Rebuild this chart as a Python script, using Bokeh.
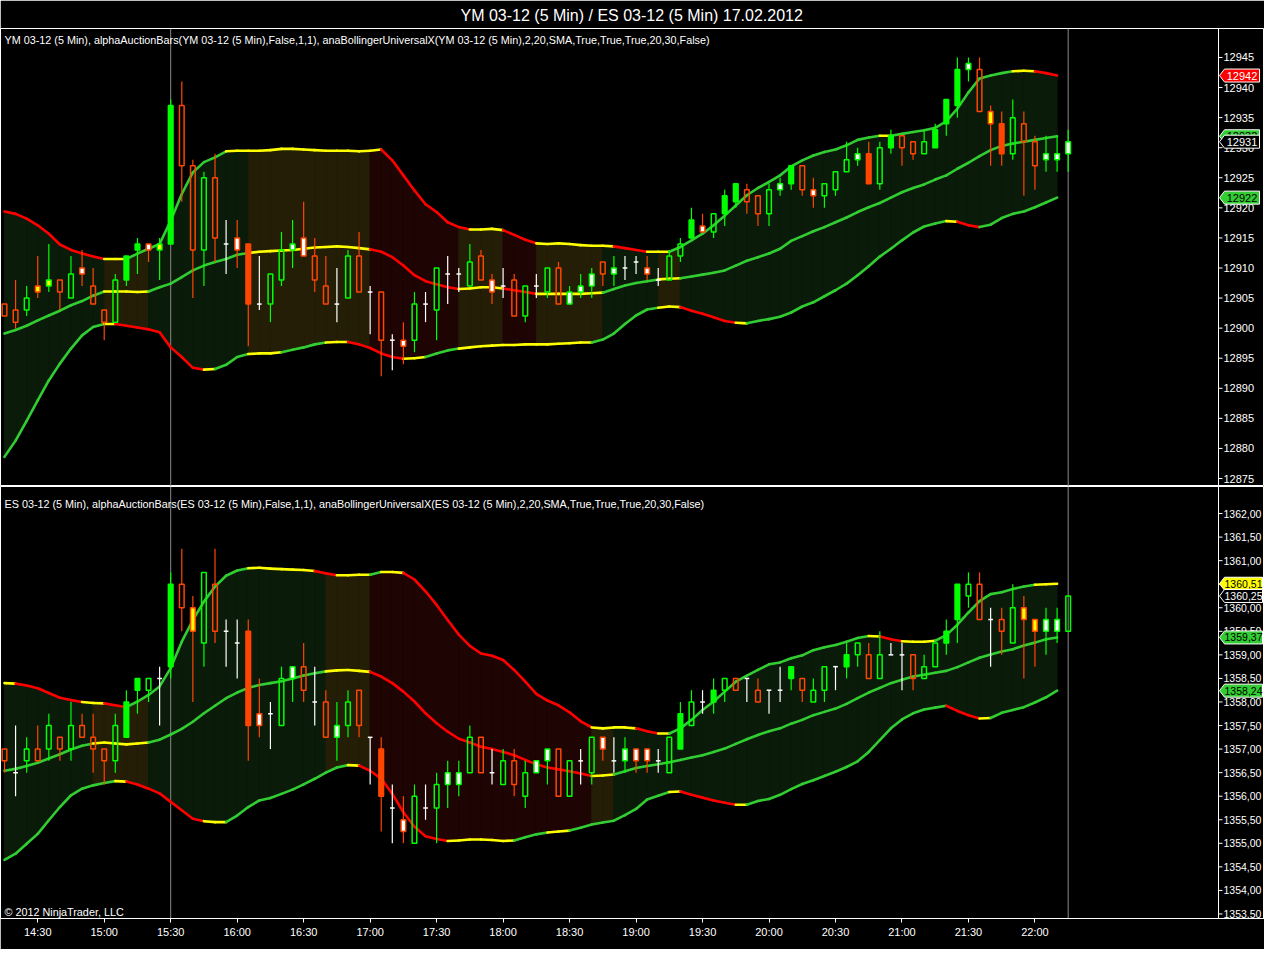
import pandas as pd
from bokeh.plotting import figure
from bokeh.layouts import column
from bokeh.models import Range1d, FixedTicker, Label, Span
from bokeh.core.properties import value
from bokeh.embed import file_html
from bokeh.resources import INLINE

# ---------------- data ----------------
times = pd.date_range("2012-02-17 14:15", periods=97, freq="5min").strftime("%H:%M").tolist()
x_tick_labels = ["14:30", "15:00", "15:30", "16:00", "16:30", "17:00", "17:30", "18:00",
                 "18:30", "19:00", "19:30", "20:00", "20:30", "21:00", "21:30", "22:00"]
marker_times = ["15:30", "22:15"]

ym_ticks = [12875, 12880, 12885, 12890, 12895, 12900, 12905, 12910, 12915, 12920,
            12925, 12930, 12935, 12940, 12945]
es_ticks = [1353.5, 1354.0, 1354.5, 1355.0, 1355.5, 1356.0, 1356.5, 1357.0, 1357.5, 1358.0,
            1358.5, 1359.0, 1359.5, 1360.0, 1360.5, 1361.0, 1361.5, 1362.0]

# bar kinds: G green solid, g green hollow, R red solid, r red hollow,
# wg/wr white body, yg/yr yellow body, x doji
ym_kind = ["r", "r", "g", "yr", "yg", "r", "g", "wr", "r", "r",
           "g", "G", "G", "wr", "yg", "G", "r", "r", "g", "r",
           "x", "wr", "R", "x", "g", "g", "wg", "wr", "r", "r",
           "x", "g", "r", "x", "r", "x", "wr", "g", "x", "g",
           "x", "x", "g", "r", "wr", "x", "r", "g", "x", "g",
           "r", "wg", "wg", "wg", "r", "wg", "x", "x", "wr", "x",
           "g", "g", "G", "wr", "g", "G", "G", "r", "r", "g",
           "wg", "G", "r", "wr", "g", "g", "g", "wg", "R", "g",
           "G", "r", "r", "g", "G", "G", "G", "wg", "r", "yr",
           "R", "g", "r", "r", "wg", "wg", "wg"]
ym_open = [12904, 12903, 12903, 12907, 12907, 12908, 12905, 12910, 12907, 12903,
           12901, 12908, 12913, 12914, 12913, 12914, 12937, 12927, 12913, 12925,
           12914, 12915, 12914, 12904, 12904, 12908, 12913, 12915, 12912, 12907,
           12904, 12905, 12912, 12906, 12906, 12898, 12898, 12898, 12904, 12903,
           12909, 12909, 12907, 12912, 12908, 12907, 12908, 12902, 12907, 12906,
           12910, 12904, 12906, 12907, 12911, 12909, 12910, 12911, 12910, 12908,
           12908, 12912, 12915, 12917, 12916, 12919, 12921, 12923, 12922, 12919,
           12923, 12924, 12927, 12923, 12922, 12923, 12926, 12928, 12929, 12924,
           12930, 12932, 12931, 12929, 12930, 12934, 12937, 12943, 12943, 12936,
           12934, 12929, 12934, 12931, 12928, 12928, 12929]
ym_high = [12904, 12908, 12907, 12912, 12914, 12908, 12912, 12913, 12910, 12903,
           12909, 12912, 12915, 12914, 12915, 12938, 12941, 12928, 12926, 12929,
           12918, 12918, 12914, 12912, 12909, 12916, 12918, 12921, 12915, 12912,
           12910, 12913, 12916, 12907, 12906, 12899, 12901, 12906, 12906, 12910,
           12912, 12910, 12914, 12913, 12909, 12910, 12909, 12907, 12909, 12910,
           12911, 12907, 12909, 12910, 12911, 12912, 12912, 12912, 12912, 12910,
           12913, 12915, 12920, 12919, 12919, 12923, 12924, 12924, 12922, 12924,
           12925, 12927, 12927, 12925, 12924, 12926, 12931, 12930, 12931, 12931,
           12933, 12932, 12931, 12933, 12934, 12938, 12945, 12945, 12945, 12937,
           12936, 12938, 12936, 12932, 12932, 12932, 12933]
ym_low = [12902, 12900, 12902, 12905, 12906, 12903, 12905, 12907, 12904, 12898,
          12901, 12907, 12909, 12911, 12908, 12914, 12921, 12905, 12907, 12911,
          12909, 12910, 12897, 12903, 12901, 12907, 12910, 12912, 12906, 12904,
          12901, 12905, 12906, 12899, 12892, 12893, 12894, 12896, 12901, 12898,
          12904, 12906, 12907, 12908, 12904, 12905, 12902, 12901, 12905, 12905,
          12904, 12904, 12905, 12905, 12907, 12907, 12908, 12909, 12908, 12907,
          12908, 12911, 12915, 12916, 12915, 12917, 12920, 12919, 12917, 12917,
          12922, 12923, 12922, 12920, 12920, 12922, 12926, 12927, 12924, 12923,
          12929, 12927, 12928, 12929, 12930, 12932, 12935, 12941, 12936, 12927,
          12927, 12928, 12922, 12923, 12926, 12926, 12926]
ym_close = [12902, 12901, 12905, 12906, 12908, 12906, 12909, 12909, 12904, 12901,
            12908, 12912, 12914, 12913, 12914, 12937, 12927, 12913, 12925, 12915,
            12914, 12913, 12904, 12904, 12909, 12913, 12914, 12912, 12908, 12904,
            12904, 12912, 12906, 12906, 12898, 12898, 12897, 12904, 12904, 12910,
            12909, 12909, 12911, 12908, 12906, 12907, 12902, 12907, 12907, 12910,
            12904, 12906, 12907, 12909, 12909, 12910, 12910, 12911, 12909, 12908,
            12912, 12914, 12918, 12916, 12919, 12922, 12924, 12921, 12919, 12923,
            12924, 12927, 12923, 12922, 12924, 12926, 12928, 12929, 12924, 12930,
            12932, 12930, 12929, 12931, 12933, 12938, 12943, 12944, 12936, 12934,
            12929, 12935, 12931, 12927, 12929, 12929, 12931]

ym_upper = [12919.4, 12919.0, 12918.2, 12917.1, 12915.7, 12913.9, 12913.0, 12912.4, 12911.9, 12911.5,
            12911.5, 12911.5, 12912.4, 12913.2, 12914.0, 12917.9, 12922.3, 12925.9, 12927.6, 12928.4,
            12929.4, 12929.5, 12929.5, 12929.5, 12929.6, 12929.8, 12929.8, 12929.7, 12929.6, 12929.5,
            12929.5, 12929.5, 12929.4, 12929.5, 12929.7, 12927.9, 12925.4, 12922.9, 12920.6, 12919.3,
            12917.6, 12916.8, 12916.4, 12916.4, 12916.5, 12916.3, 12915.5, 12914.7, 12914.1, 12914.0,
            12914.1, 12914.0, 12913.8, 12913.7, 12913.7, 12913.6, 12913.3, 12913.0, 12912.7, 12912.7,
            12912.7, 12913.5, 12914.6, 12915.7, 12917.1, 12918.7, 12920.4, 12922.1, 12923.3, 12924.3,
            12925.4, 12926.9, 12927.9, 12928.7, 12929.3, 12929.7, 12930.4, 12931.3, 12931.7, 12932.0,
            12932.0, 12932.3, 12932.6, 12932.9, 12933.3, 12934.4, 12936.5, 12939.2, 12941.5, 12942.0,
            12942.4, 12942.7, 12942.8, 12942.7, 12942.4, 12942.0]
ym_mid = [12899.1, 12899.7, 12900.4, 12901.3, 12902.1, 12902.9, 12903.8, 12904.5, 12905.4, 12906.1,
          12906.1, 12906.1, 12906.0, 12906.1, 12906.8, 12907.4, 12908.5, 12909.6, 12910.4, 12911.0,
          12911.5, 12912.2, 12912.5, 12912.7, 12912.8, 12912.9, 12913.0, 12913.2, 12913.4, 12913.5,
          12913.6, 12913.5, 12913.3, 12913.1, 12912.7, 12911.8, 12910.4, 12908.8, 12907.8, 12907.3,
          12906.8, 12906.5, 12906.6, 12906.8, 12906.8, 12906.6, 12906.3, 12906.0, 12905.7, 12905.7,
          12905.7, 12905.7, 12905.7, 12905.8, 12905.9, 12906.5, 12907.1, 12907.5, 12907.8, 12908.1,
          12908.2, 12908.3, 12908.6, 12908.9, 12909.2, 12909.6, 12910.4, 12911.2, 12911.8, 12912.4,
          12913.2, 12914.5, 12915.3, 12916.1, 12916.8, 12917.6, 12918.4, 12919.3, 12920.1, 12920.8,
          12921.7, 12922.6, 12923.3, 12923.9, 12924.7, 12925.4, 12926.5, 12927.5, 12928.6, 12929.6,
          12930.3, 12930.7, 12931.0, 12931.3, 12931.6, 12931.9]
ym_lower = [12878.6, 12881.3, 12884.6, 12888.0, 12891.3, 12894.1, 12896.6, 12898.8, 12900.2, 12900.7,
            12900.7, 12900.4, 12900.1, 12899.8, 12899.3, 12896.8, 12895.2, 12893.4, 12893.1, 12893.2,
            12893.9, 12895.2, 12895.7, 12895.8, 12895.8, 12896.0, 12896.4, 12896.8, 12897.3, 12897.6,
            12897.7, 12897.7, 12897.3, 12896.7, 12895.8, 12895.2, 12894.9, 12895.0, 12895.2, 12895.8,
            12896.3, 12896.6, 12896.8, 12897.0, 12897.1, 12897.2, 12897.2, 12897.3, 12897.3, 12897.3,
            12897.4, 12897.5, 12897.6, 12897.6, 12898.1, 12899.1, 12900.7, 12902.1, 12903.1, 12903.4,
            12903.6, 12903.5, 12902.9, 12902.4, 12901.8, 12901.2, 12900.9, 12900.8, 12901.2, 12901.5,
            12901.9, 12902.6, 12903.6, 12904.3, 12905.3, 12906.3, 12907.4, 12908.8, 12910.3, 12911.9,
            12913.2, 12914.6, 12915.9, 12916.9, 12917.4, 12917.8, 12917.7, 12917.1, 12916.8, 12917.2,
            12918.3, 12919.0, 12919.4, 12920.1, 12920.9, 12921.7]

es_kind = ["r", "x", "g", "r", "g", "r", "g", "r", "r", "r",
           "g", "G", "G", "g", "x", "G", "r", "yr", "g", "r",
           "x", "x", "R", "wr", "x", "g", "wg", "r", "x", "r",
           "wg", "g", "r", "x", "R", "x", "wr", "g", "x", "g",
           "wg", "wg", "g", "r", "x", "g", "r", "g", "wg", "wg",
           "r", "g", "x", "g", "wr", "x", "wg", "wr", "wr", "x",
           "g", "G", "g", "x", "G", "g", "r", "x", "r", "x",
           "x", "G", "r", "g", "g", "x", "G", "g", "r", "g",
           "x", "x", "r", "g", "g", "G", "G", "g", "r", "x",
           "r", "g", "yr", "yr", "wg", "wg", "g"]
es_open = [1357.00, 1356.50, 1356.75, 1357.00, 1357.00, 1357.25, 1357.00, 1357.50, 1357.25, 1357.00,
           1356.75, 1357.25, 1358.25, 1358.25, 1358.50, 1358.75, 1360.50, 1360.00, 1359.25, 1360.50,
           1359.50, 1359.25, 1359.50, 1357.75, 1357.75, 1357.50, 1358.50, 1358.75, 1358.00, 1358.00,
           1357.25, 1357.50, 1358.25, 1357.25, 1357.00, 1355.75, 1355.50, 1355.00, 1355.75, 1355.75,
           1356.25, 1356.25, 1356.50, 1357.25, 1356.50, 1356.25, 1356.75, 1356.00, 1356.50, 1356.75,
           1357.00, 1356.00, 1356.75, 1356.50, 1357.25, 1356.75, 1356.75, 1357.00, 1357.00, 1356.75,
           1356.50, 1357.00, 1357.50, 1358.00, 1358.00, 1358.25, 1358.50, 1358.50, 1358.25, 1358.25,
           1358.25, 1358.50, 1358.50, 1358.00, 1358.25, 1358.75, 1358.75, 1359.00, 1359.00, 1358.50,
           1359.00, 1359.00, 1359.00, 1358.50, 1358.75, 1359.25, 1359.75, 1360.25, 1360.50, 1359.75,
           1359.75, 1359.25, 1360.00, 1359.75, 1359.50, 1359.50, 1359.50]
es_high = [1357.00, 1357.50, 1357.25, 1357.50, 1357.75, 1357.25, 1358.00, 1357.75, 1357.75, 1357.00,
           1357.75, 1358.25, 1358.50, 1358.50, 1358.75, 1360.75, 1361.25, 1360.25, 1360.75, 1361.25,
           1359.75, 1359.75, 1359.75, 1358.50, 1358.00, 1358.75, 1358.75, 1359.25, 1358.75, 1358.25,
           1358.00, 1358.25, 1358.25, 1357.25, 1357.25, 1356.25, 1356.00, 1356.25, 1356.25, 1356.50,
           1356.75, 1356.75, 1357.50, 1357.25, 1357.00, 1357.00, 1357.00, 1356.75, 1356.75, 1357.00,
           1357.00, 1356.75, 1357.00, 1357.25, 1357.25, 1357.25, 1357.25, 1357.00, 1357.00, 1357.00,
           1357.25, 1358.00, 1358.25, 1358.25, 1358.50, 1358.50, 1358.50, 1358.50, 1358.50, 1358.25,
           1358.75, 1358.75, 1358.50, 1358.50, 1358.75, 1358.75, 1359.25, 1359.25, 1359.25, 1359.50,
           1359.25, 1359.25, 1359.00, 1359.00, 1359.25, 1359.75, 1360.50, 1360.75, 1360.75, 1360.00,
           1360.00, 1360.50, 1360.25, 1359.75, 1360.00, 1360.00, 1360.25]
es_low = [1356.50, 1356.00, 1356.50, 1356.75, 1356.75, 1356.75, 1356.75, 1357.25, 1356.50, 1356.25,
          1356.50, 1357.25, 1357.75, 1358.00, 1357.50, 1358.50, 1359.50, 1358.00, 1358.75, 1359.25,
          1358.75, 1358.50, 1356.75, 1357.25, 1357.00, 1357.50, 1358.00, 1358.00, 1357.50, 1357.25,
          1356.75, 1357.25, 1357.25, 1356.25, 1355.25, 1355.00, 1355.00, 1355.00, 1355.50, 1355.00,
          1355.75, 1356.00, 1356.50, 1356.50, 1356.25, 1356.25, 1356.00, 1355.75, 1356.50, 1356.25,
          1356.00, 1356.00, 1356.25, 1356.25, 1356.75, 1356.50, 1356.50, 1356.50, 1356.50, 1356.50,
          1356.50, 1357.00, 1357.50, 1357.75, 1357.75, 1358.00, 1358.25, 1358.00, 1358.00, 1357.75,
          1358.00, 1358.25, 1358.00, 1358.00, 1358.00, 1358.25, 1358.50, 1358.75, 1358.50, 1358.50,
          1359.00, 1358.25, 1358.25, 1358.50, 1358.75, 1359.00, 1359.25, 1360.00, 1359.75, 1358.75,
          1359.00, 1359.25, 1358.50, 1358.75, 1359.00, 1359.25, 1359.50]
es_close = [1356.75, 1356.50, 1357.00, 1356.75, 1357.50, 1357.00, 1357.50, 1357.25, 1357.00, 1356.75,
            1357.50, 1358.00, 1358.50, 1358.50, 1358.50, 1360.50, 1360.00, 1359.50, 1360.75, 1359.50,
            1359.50, 1359.25, 1357.50, 1357.50, 1357.75, 1358.50, 1358.75, 1358.25, 1358.00, 1357.25,
            1357.50, 1358.00, 1357.50, 1357.25, 1356.00, 1355.75, 1355.25, 1356.00, 1355.75, 1356.25,
            1356.50, 1356.50, 1357.25, 1356.50, 1356.50, 1356.75, 1356.25, 1356.50, 1356.75, 1357.00,
            1356.00, 1356.75, 1356.75, 1357.25, 1357.00, 1356.75, 1357.00, 1356.75, 1356.75, 1356.75,
            1357.25, 1357.75, 1358.00, 1358.00, 1358.25, 1358.50, 1358.25, 1358.50, 1358.00, 1358.25,
            1358.25, 1358.75, 1358.25, 1358.25, 1358.75, 1358.75, 1359.00, 1359.25, 1358.50, 1359.00,
            1359.00, 1359.00, 1358.50, 1358.75, 1359.25, 1359.50, 1360.50, 1360.50, 1359.75, 1359.75,
            1359.50, 1360.00, 1359.75, 1359.50, 1359.75, 1359.75, 1360.25]

es_upper = [1358.40, 1358.39, 1358.35, 1358.29, 1358.19, 1358.09, 1358.04, 1358.00, 1357.98, 1357.97,
            1357.93, 1357.89, 1358.01, 1358.15, 1358.33, 1358.72, 1359.28, 1359.74, 1360.13, 1360.45,
            1360.68, 1360.79, 1360.84, 1360.85, 1360.83, 1360.82, 1360.81, 1360.80, 1360.78, 1360.73,
            1360.69, 1360.69, 1360.70, 1360.70, 1360.76, 1360.76, 1360.74, 1360.60, 1360.35, 1360.06,
            1359.74, 1359.43, 1359.19, 1359.03, 1358.98, 1358.89, 1358.68, 1358.43, 1358.17, 1358.03,
            1357.93, 1357.78, 1357.59, 1357.46, 1357.44, 1357.46, 1357.46, 1357.44, 1357.38, 1357.33,
            1357.33, 1357.44, 1357.62, 1357.83, 1358.01, 1358.22, 1358.43, 1358.56, 1358.68, 1358.80,
            1358.84, 1358.93, 1358.99, 1359.10, 1359.16, 1359.21, 1359.28, 1359.36, 1359.40, 1359.39,
            1359.33, 1359.29, 1359.28, 1359.28, 1359.30, 1359.42, 1359.64, 1359.90, 1360.14, 1360.29,
            1360.33, 1360.40, 1360.45, 1360.49, 1360.50, 1360.51]
es_mid = [1356.54, 1356.58, 1356.64, 1356.71, 1356.80, 1356.89, 1356.99, 1357.07, 1357.12, 1357.14,
          1357.12, 1357.10, 1357.12, 1357.14, 1357.20, 1357.31, 1357.43, 1357.58, 1357.76, 1357.92,
          1358.08, 1358.20, 1358.30, 1358.36, 1358.40, 1358.44, 1358.50, 1358.56, 1358.61, 1358.65,
          1358.67, 1358.68, 1358.66, 1358.64, 1358.54, 1358.40, 1358.22, 1358.01, 1357.76, 1357.55,
          1357.37, 1357.22, 1357.14, 1357.05, 1357.00, 1356.94, 1356.87, 1356.77, 1356.68, 1356.61,
          1356.57, 1356.53, 1356.48, 1356.43, 1356.44, 1356.46, 1356.53, 1356.60, 1356.64, 1356.68,
          1356.72, 1356.77, 1356.82, 1356.87, 1356.94, 1357.01, 1357.11, 1357.21, 1357.30, 1357.38,
          1357.44, 1357.54, 1357.62, 1357.72, 1357.79, 1357.86, 1357.96, 1358.08, 1358.20, 1358.30,
          1358.40, 1358.47, 1358.54, 1358.58, 1358.62, 1358.66, 1358.74, 1358.84, 1358.94, 1359.01,
          1359.07, 1359.12, 1359.20, 1359.26, 1359.33, 1359.37]
es_lower = [1354.65, 1354.78, 1354.99, 1355.20, 1355.49, 1355.77, 1356.02, 1356.16, 1356.23, 1356.28,
            1356.32, 1356.31, 1356.25, 1356.16, 1356.06, 1355.88, 1355.70, 1355.52, 1355.47, 1355.45,
            1355.45, 1355.59, 1355.77, 1355.91, 1355.96, 1356.05, 1356.14, 1356.25, 1356.37, 1356.50,
            1356.61, 1356.66, 1356.65, 1356.54, 1356.37, 1356.05, 1355.66, 1355.35, 1355.15, 1355.09,
            1355.05, 1355.06, 1355.08, 1355.08, 1355.07, 1355.05, 1355.06, 1355.13, 1355.19, 1355.23,
            1355.25, 1355.27, 1355.33, 1355.40, 1355.44, 1355.48, 1355.60, 1355.73, 1355.93, 1356.01,
            1356.09, 1356.10, 1356.03, 1355.97, 1355.91, 1355.86, 1355.82, 1355.82, 1355.90, 1355.94,
            1356.03, 1356.15, 1356.26, 1356.34, 1356.43, 1356.52, 1356.62, 1356.74, 1356.94, 1357.19,
            1357.44, 1357.63, 1357.76, 1357.84, 1357.88, 1357.92, 1357.81, 1357.72, 1357.65, 1357.66,
            1357.77, 1357.83, 1357.89, 1357.99, 1358.10, 1358.24]

title_text = "YM 03-12 (5 Min) / ES 03-12 (5 Min)  17.02.2012"
ym_caption = ("YM 03-12 (5 Min), alphaAuctionBars(YM 03-12 (5 Min),False,1,1), "
              "anaBollingerUniversalX(YM 03-12 (5 Min),2,20,SMA,True,True,True,20,30,False)")
es_caption = ("ES 03-12 (5 Min), alphaAuctionBars(ES 03-12 (5 Min),False,1,1), "
              "anaBollingerUniversalX(ES 03-12 (5 Min),2,20,SMA,True,True,True,20,30,False)")
copyright_text = "\u00a9 2012 NinjaTrader, LLC"

# ---------------- style / geometry ----------------
FONT = "Liberation Sans"
GREEN = "#00ff00"
ORANGE = "#ff4500"
BODY_STYLE = {
    "G": (GREEN, 1.0, GREEN), "g": ("black", 0.0, GREEN),
    "R": (ORANGE, 1.0, ORANGE), "r": ("black", 0.0, ORANGE),
    "wg": ("white", 1.0, GREEN), "wr": ("white", 1.0, ORANGE),
    "yg": ("#ffff00", 1.0, GREEN), "yr": ("#ffff00", 1.0, ORANGE),
}
LINE_COL = {"up": "#32cd32", "dn": "#ff0000", "flat": "#ffff00"}
SHADE_COL = {"up": "#0a1b0a", "dn": "#1f0404", "flat": "#231e05"}
LABEL_TXT = {"up": "black", "dn": "white", "flat": "black"}

FIG_W = 1264
PX_PER_BAR = 11.08          # horizontal spacing of the 5-minute bars
X0_PX = 4                   # pixel position of the first bar
BAR_W = 0.42


def px_to_x(px):
    return (px - X0_PX) / PX_PER_BAR


x_range = Range1d(px_to_x(0), px_to_x(FIG_W))
AXIS_X = px_to_x(1218)       # price-axis line
TICK_END = px_to_x(1222)
LABEL_X = px_to_x(1223)
TAG_TIP = px_to_x(1219)
TAG_LEFT = px_to_x(1224)


def band_states(v, thr):
    out = []
    for a, b in zip(v[:-1], v[1:]):
        d = b - a
        out.append("up" if d > thr else ("dn" if d < -thr else "flat"))
    return out


def make_panel(p, kind, o, h, l, c, up, mid, lo, thr):
    n = len(kind)
    m = len(mid)
    st_mid = band_states(mid, thr)
    p.patches([[i, i + 1, i + 1, i] for i in range(m - 1)],
              [[up[i], up[i + 1], lo[i + 1], lo[i]] for i in range(m - 1)],
              fill_color=[SHADE_COL[s] for s in st_mid],
              line_color=[SHADE_COL[s] for s in st_mid], line_width=1)
    y0, y1 = p.y_range.start, p.y_range.end
    mk = [times.index(t) for t in marker_times]
    p.segment(x0=mk, x1=mk, y0=[y0] * len(mk), y1=[y1] * len(mk),
              line_color="#8a8a8a", line_width=1)
    for band in (up, mid, lo):
        st = band_states(band, thr)
        p.multi_line([[i, i + 1] for i in range(m - 1)],
                     [[band[i], band[i + 1]] for i in range(m - 1)],
                     line_color=[LINE_COL[s] for s in st], line_width=2.6, line_cap="round")
    idx = list(range(n))
    top = [max(a, b) for a, b in zip(o, c)]
    bot = [min(a, b) for a, b in zip(o, c)]
    wick_col = [BODY_STYLE[k][2] if k in BODY_STYLE else "white" for k in kind]
    p.segment(x0=idx, x1=idx, y0=top, y1=h, line_color=wick_col, line_width=1.2)
    p.segment(x0=idx, x1=idx, y0=l, y1=bot, line_color=wick_col, line_width=1.2)
    body = [i for i, k in enumerate(kind) if k != "x"]
    p.vbar(x=body, width=BAR_W, top=[top[i] for i in body], bottom=[bot[i] for i in body],
           fill_color=[BODY_STYLE[kind[i]][0] for i in body],
           fill_alpha=[BODY_STYLE[kind[i]][1] for i in body],
           line_color=[BODY_STYLE[kind[i]][2] for i in body], line_width=1.5)
    doji = [i for i, k in enumerate(kind) if k == "x"]
    p.segment(x0=[i - BAR_W / 2 for i in doji], x1=[i + BAR_W / 2 for i in doji],
              y0=[o[i] for i in doji], y1=[o[i] for i in doji],
              line_color="white", line_width=1.5)
    return [band_states(b, thr)[-1] for b in (up, mid, lo)]


def price_axis(p, ticks, labels, font_size):
    p.add_layout(Span(location=AXIS_X, dimension="height", line_color="white", line_width=1))
    p.segment(x0=[AXIS_X] * len(ticks), x1=[TICK_END] * len(ticks), y0=ticks, y1=ticks,
              line_color="white", line_width=1)
    p.text(x=[LABEL_X] * len(ticks), y=ticks, text=labels, text_color="white",
           text_font=value(FONT), text_font_size=font_size, text_align="left",
           text_baseline="middle")


def price_tag(p, y, text, bg, fg, right_px, frame_h, font_size):
    hh = 6.5 * (p.y_range.end - p.y_range.start) / frame_h
    right = px_to_x(right_px)
    p.patches([[TAG_TIP, TAG_LEFT, right, right, TAG_LEFT]],
              [[y, y + hh, y + hh, y - hh, y - hh]],
              fill_color=bg, line_color="white", line_width=1)
    p.text(x=[(TAG_LEFT + right) / 2], y=[y], text=[text], text_color=fg,
           text_font=value(FONT), text_font_size=font_size, text_align="center",
           text_baseline="middle")


common = dict(width=FIG_W, x_range=x_range, y_axis_location=None,
              toolbar_location=None, output_backend="svg",
              background_fill_color="black", border_fill_color="black",
              outline_line_color="white", min_border_left=0, min_border_right=0)

# ---------------- top panel (YM) ----------------
TOP_H = 458
p1 = figure(frame_height=TOP_H, y_range=Range1d(12873.67, 12949.82), x_axis_location=None,
            min_border_top=28, min_border_bottom=0, **common)
p1.grid.visible = False
p1.title.text = title_text
p1.title.align = "left"
p1.title.offset = 460
p1.title.standoff = 9
p1.title.text_color = "white"
p1.title.text_font = FONT
p1.title.text_font_size = "16px"
p1.title.text_font_style = "normal"
s1 = make_panel(p1, ym_kind, ym_open, ym_high, ym_low, ym_close, ym_upper, ym_mid, ym_lower, 0.25)
price_axis(p1, ym_ticks, [f"{t:.0f}" for t in ym_ticks], "11px")
p1.add_layout(Label(x=4, y=TOP_H - 5, x_units="screen", y_units="screen", text=ym_caption,
                    text_color="white", text_font=FONT, text_font_size="10.8px",
                    text_baseline="top"))
price_tag(p1, ym_upper[-1], f"{ym_upper[-1]:.0f}", LINE_COL[s1[0]], LABEL_TXT[s1[0]], 1259, TOP_H, "11px")
price_tag(p1, ym_mid[-1], f"{ym_mid[-1]:.0f}", LINE_COL[s1[1]], LABEL_TXT[s1[1]], 1259, TOP_H, "11px")
price_tag(p1, ym_close[-1], f"{ym_close[-1]:.0f}", "black", "white", 1259, TOP_H, "11px")
price_tag(p1, ym_lower[-1], f"{ym_lower[-1]:.0f}", LINE_COL[s1[2]], LABEL_TXT[s1[2]], 1259, TOP_H, "11px")

# ---------------- bottom panel (ES) ----------------
BOT_H = 432
p2 = figure(frame_height=BOT_H, y_range=Range1d(1353.404, 1362.574),
            min_border_top=0, min_border_bottom=31, **common)
p2.grid.visible = False
xa = p2.xaxis[0]
xa.ticker = FixedTicker(ticks=[times.index(t) for t in x_tick_labels])
xa.major_label_overrides = {times.index(t): t for t in x_tick_labels}
xa.axis_line_color = "white"
xa.major_tick_line_color = "white"
xa.major_tick_out = 4
xa.major_tick_in = 0
xa.minor_tick_line_color = None
xa.major_label_text_color = "white"
xa.major_label_text_font = FONT
xa.major_label_text_font_size = "11px"
xa.major_label_standoff = 3
s2 = make_panel(p2, es_kind, es_open, es_high, es_low, es_close, es_upper, es_mid, es_lower, 0.025)


def es_fmt(v):
    return f"{v:.2f}".replace(".", ",")


price_axis(p2, es_ticks, [es_fmt(t) for t in es_ticks], "10.5px")
p2.add_layout(Label(x=4, y=BOT_H - 11, x_units="screen", y_units="screen", text=es_caption,
                    text_color="white", text_font=FONT, text_font_size="10.8px",
                    text_baseline="top"))
p2.add_layout(Label(x=4, y=1, x_units="screen", y_units="screen", text=copyright_text,
                    text_color="white", text_font=FONT, text_font_size="10.8px",
                    text_baseline="bottom"))
price_tag(p2, es_upper[-1], es_fmt(es_upper[-1]), LINE_COL[s2[0]], LABEL_TXT[s2[0]], 1262, BOT_H, "10.5px")
price_tag(p2, es_close[-1], es_fmt(es_close[-1]), "black", "white", 1262, BOT_H, "10.5px")
price_tag(p2, es_mid[-1], es_fmt(es_mid[-1]), LINE_COL[s2[1]], LABEL_TXT[s2[1]], 1262, BOT_H, "10.5px")
price_tag(p2, es_lower[-1], es_fmt(es_lower[-1]), LINE_COL[s2[2]], LABEL_TXT[s2[2]], 1262, BOT_H, "10.5px")

layout = column(p1, p2, spacing=0)
open("out.html", "w").write(file_html(layout, INLINE))
